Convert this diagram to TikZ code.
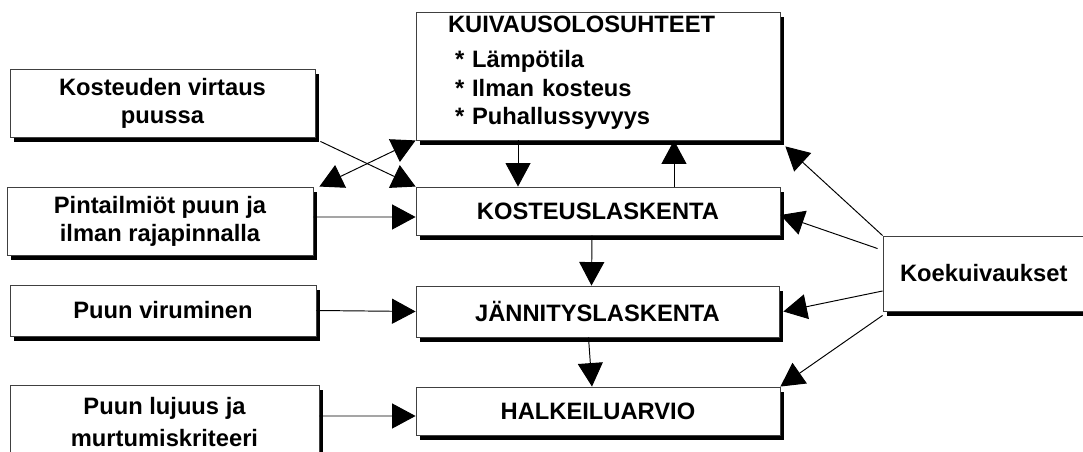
\documentclass[tikz,border=0pt]{standalone}
\usepackage{fontspec}
\setmainfont{Liberation Sans}
\usetikzlibrary{arrows.meta,shadows}

\begin{document}
\begin{tikzpicture}[x=0.02cm, y=-0.02cm, >={Triangle[length=0.47cm,width=0.5cm]},
  box/.style={draw=black!75, line width=0.5pt, fill=white, inner sep=0pt, align=center,
    font=\fontsize{13.5}{16}\selectfont\bfseries,
    drop shadow={shadow xshift=2.4pt, shadow yshift=-2.6pt, opacity=1, fill=black}},
  link/.style={->, line width=0.55pt}]
\clip (0,0) rectangle (1083,452);
\node[box, minimum width=7.28cm, minimum height=2.56cm, text width=6cm, align=left] (kuiv) at (598,76)
  {KUIVAUSOLOSUHTEET\\[4pt]
   \hspace{0.14cm}* Lämpötila\\ \hspace{0.14cm}* Ilman kosteus\\ \hspace{0.14cm}* Puhallussyvyys\rule[-0.23cm]{0pt}{0pt}};
\node[box, minimum width=6.1cm, minimum height=1.36cm] (virt) at (162.5,103) {Kosteuden virtaus\\puussa};
\node[box, minimum width=6.12cm, minimum height=1.36cm] (pint) at (160,221) {Pintailmiöt puun ja\\ilman rajapinnalla};
\node[box, minimum width=7.28cm, minimum height=0.96cm] (kost) at (598,211) {KOSTEUSLASKENTA};
\node[box, minimum width=6.12cm, minimum height=1.02cm] (viru) at (163,310.5) {Puun viruminen};
\node[box, minimum width=7.26cm, minimum height=1.02cm] (jann) at (597.5,311.5) {JÄNNITYSLASKENTA};
\node[box, minimum width=6.18cm, minimum height=1.48cm] (luju) at (164.5,422) {Puun lujuus ja\\[2pt]murtumiskriteeri};
\node[box, minimum width=7.28cm, minimum height=0.96cm] (halk) at (598,411) {HALKEILUARVIO};
\node[box, minimum width=4.6cm, minimum height=1.5cm, text width=3.92cm, align=left] (koek) at (998,273.5) {Koekuivaukset};
\draw[link] ([xshift=0.1cm,yshift=-0.08cm]virt.south east) -- (kost.north west);
\draw[link, <->] ([xshift=0.12cm]pint.north east) -- (kuiv.south west);
\draw[link] ([xshift=-1.6cm]kuiv.south) -- ([xshift=-1.6cm]kost.north);
\draw[link] ([xshift=1.52cm]kost.north) -- ([xshift=1.52cm]kuiv.south);
\draw[link] (pint.east |- kost.west) ++(0,6) -- ([yshift=-0.12cm]kost.west);
\draw[link] ([xshift=-0.12cm]kost.south) -- ([xshift=-0.12cm]jann.north);
\draw[link] (viru.east) -- (jann.west);
\draw[link] ([xshift=-0.18cm]jann.south) -- ([xshift=-0.12cm]halk.north);
\draw[link] (luju.east |- halk.west) ++(0,5) -- ([yshift=-0.1cm]halk.west);
\draw[link] (koek.north west) -- ([xshift=0.1cm,yshift=-0.12cm]kuiv.south east);
\draw[link] ([xshift=-0.1cm,yshift=-0.26cm]koek.north west) -- ([yshift=-0.08cm]kost.east);
\draw[link] ([yshift=-0.35cm]koek.west) -- ([xshift=0.08cm]jann.east);
\draw[link] ([yshift=-0.08cm]koek.south west) -- (halk.north east);
\end{tikzpicture}
\end{document}
